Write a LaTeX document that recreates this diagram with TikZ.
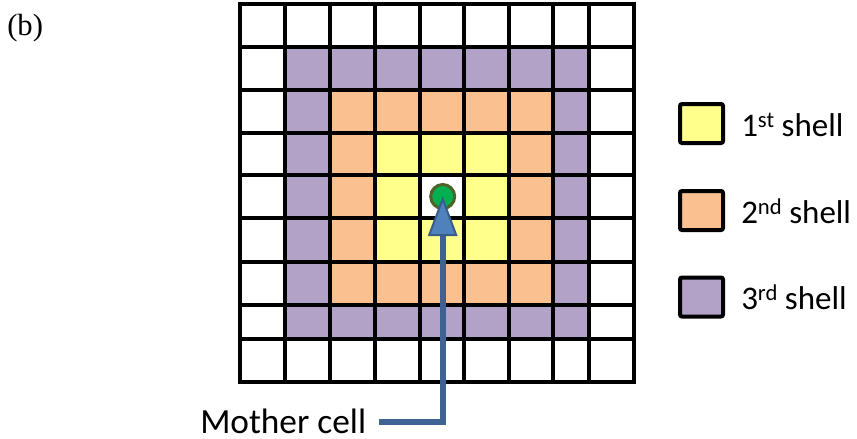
\documentclass[tikz,border=0pt]{standalone}
\usepackage{fontspec}
\setmainfont{Carlito}
\newfontfamily\serifb{Liberation Serif}
\usetikzlibrary{calc}
\definecolor{shellone}{HTML}{FFFF8C}
\definecolor{shelltwo}{HTML}{FAC090}
\definecolor{shellthree}{HTML}{B3A2C7}
\definecolor{dotgreen}{HTML}{00B050}
\definecolor{dotrim}{HTML}{4F6228}
\definecolor{arrowfill}{HTML}{4F81BD}
\definecolor{arrowrim}{HTML}{385D8A}
\definecolor{shaftblue}{HTML}{3F6294}
\begin{document}
\begin{tikzpicture}[x=0.75pt,y=-0.75pt,
  gridline/.style={line width=2.7pt,black},
  legendbox/.style={draw=black,line width=3pt,rounded corners=1.5pt,
    minimum width=32.25pt,minimum height=29.25pt,inner sep=0pt},
  labeltext/.style={anchor=base west,inner sep=0pt,font=\fontsize{24.75}{28}\selectfont},
  shaft/.style={draw=shaftblue,line width=4.5pt},
  arrowhead/.style={fill=arrowfill,draw=arrowrim,line width=1.5pt,line join=miter}]
\useasboundingbox (0,0) rectangle (857,439);

% panel tag
\node[anchor=base west,inner sep=0pt,font=\serifb\fontsize{23}{26}\selectfont] (tag) at (7,36) {(b)};

% shells around the central cell
\fill[shellthree] (285,47) rectangle (589,339);
\fill[shelltwo] (330,90) rectangle (553,305);
\fill[shellone] (375,133) rectangle (509,262);
\fill[white] (420,175) rectangle (464,218);

% lattice
\foreach \x in {285,330,375,420,464,509,553,589}
  \draw[gridline] (\x,4) -- (\x,382);
\foreach \y in {47,90,133,175,218,262,305,339}
  \draw[gridline] (240,\y) -- (634,\y);
\draw[gridline,line width=3pt] (240,4) rectangle (634,382);

% mother cell
\node[circle,fill=dotgreen,draw=dotrim,line width=2.25pt,minimum size=18pt,inner sep=0pt] (dot) at (442.7,196.5) {};

% label and pointer
\node[labeltext,text depth=0pt,font=\fontsize{26.5}{28}\selectfont] (lbl) at (200,433) {Mother cell};
\coordinate (tail) at (379,422);
\coordinate (tip) at ($(dot.center)+(0,2.5)$);
\coordinate (headbase) at ($(tip)+(0,36)$);
\draw[shaft] (tail) -| (headbase);
\draw[arrowhead] (tip) -- ($(headbase)+(-13.5,0)$) -- ($(headbase)+(13.5,0)$) -- cycle;

% legend
\node[legendbox,fill=shellone] (k1) at (701.5,123.5) {};
\node[legendbox,fill=shelltwo] (k2) at (701.5,210.5) {};
\node[legendbox,fill=shellthree] (k3) at (701.5,297) {};
\node[labeltext] (t1) at (741,136) {1\raisebox{6.5pt}{\fontsize{17}{17}\selectfont st} shell};
\node[labeltext] (t2) at (741,223) {2\raisebox{6.5pt}{\fontsize{17}{17}\selectfont nd} shell};
\node[labeltext] (t3) at (741,309.5) {3\raisebox{6.5pt}{\fontsize{17}{17}\selectfont rd} shell};
\end{tikzpicture}
\end{document}
